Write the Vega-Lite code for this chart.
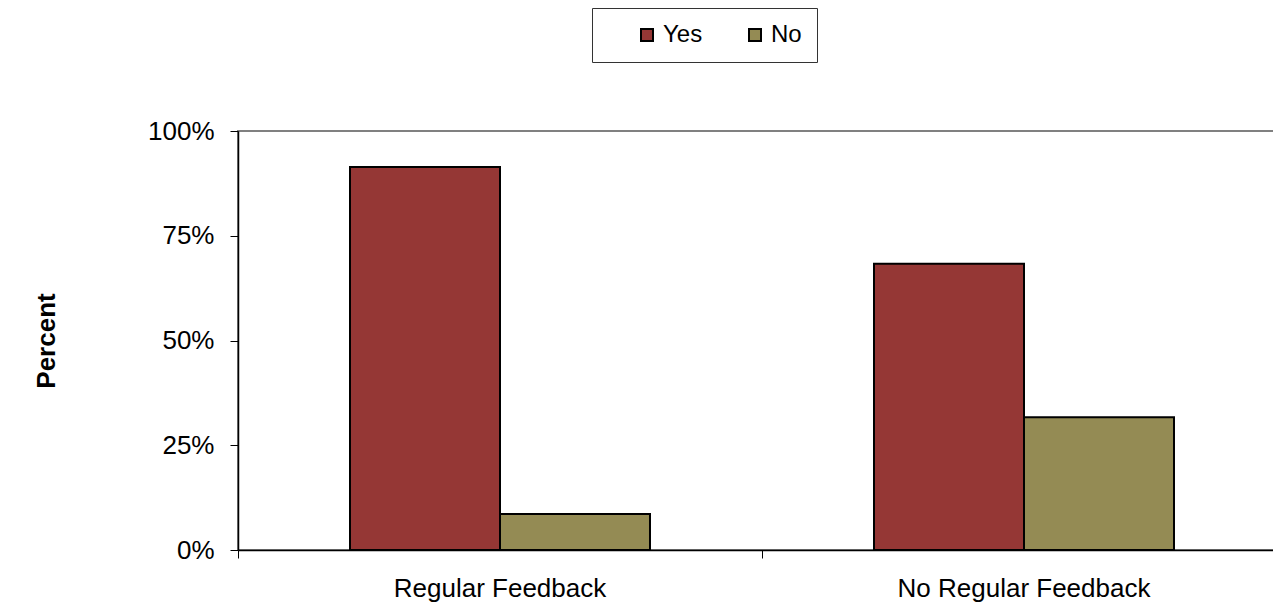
{
  "$schema": "https://vega.github.io/schema/vega-lite/v6.json",
  "width": 1048,
  "height": 419,
  "autosize": {"type": "none"},
  "padding": {"left": 238, "top": 131, "right": 0, "bottom": 58},
  "background": "white",
  "data": {
    "values": [
      {"group": "Regular Feedback", "answer": "Yes", "pct": 0.914},
      {"group": "Regular Feedback", "answer": "No", "pct": 0.086},
      {"group": "No Regular Feedback", "answer": "Yes", "pct": 0.683},
      {"group": "No Regular Feedback", "answer": "No", "pct": 0.317}
    ]
  },
  "mark": {"type": "bar", "stroke": "black", "strokeWidth": 2},
  "encoding": {
    "x": {
      "field": "group",
      "type": "nominal",
      "sort": ["Regular Feedback", "No Regular Feedback"],
      "scale": {"paddingInner": 0, "paddingOuter": 0},
      "axis": {
        "title": null,
        "labelAngle": 0,
        "labelFontSize": 26,
        "labelColor": "black",
        "labelPadding": 17,
        "labelLimit": 500,
        "labelOverlap": false,
        "bandPosition": 0,
        "tickColor": "black",
        "tickSize": 8,
        "domainColor": "black",
        "domainWidth": 1.5
      }
    },
    "xOffset": {
      "field": "answer",
      "type": "nominal",
      "sort": ["Yes", "No"],
      "scale": {"paddingInner": 0, "paddingOuter": 0.7467}
    },
    "y": {
      "field": "pct",
      "type": "quantitative",
      "scale": {"domain": [0, 1], "nice": false},
      "axis": {
        "title": "Percent",
        "titleFontSize": 26,
        "titleFontWeight": "bold",
        "titleColor": "black",
        "titlePadding": 88,
        "values": [0, 0.25, 0.5, 0.75, 1],
        "format": ".0%",
        "labelFontSize": 26,
        "labelColor": "black",
        "labelPadding": 16,
        "tickColor": "black",
        "tickSize": 8,
        "domainColor": "black",
        "domainWidth": 1.5,
        "grid": false
      }
    },
    "color": {
      "field": "answer",
      "type": "nominal",
      "sort": ["Yes", "No"],
      "scale": {"domain": ["Yes", "No"], "range": ["#953735", "#948B54"]},
      "legend": {
        "title": null,
        "orient": "none",
        "direction": "horizontal",
        "legendX": 354,
        "legendY": -123,
        "strokeColor": "#333333",
        "padding": 15,
        "symbolOffset": 28,
        "symbolType": "square",
        "symbolSize": 144,
        "symbolStrokeColor": "black",
        "symbolStrokeWidth": 2,
        "labelFontSize": 24,
        "labelColor": "black",
        "labelOffset": 4,
        "columnPadding": 12,
        "gridAlign": "all",
        "columns": 2
      }
    }
  },
  "config": {
    "font": "Liberation Sans",
    "view": {"stroke": "#808080", "strokeWidth": 2}
  }
}
